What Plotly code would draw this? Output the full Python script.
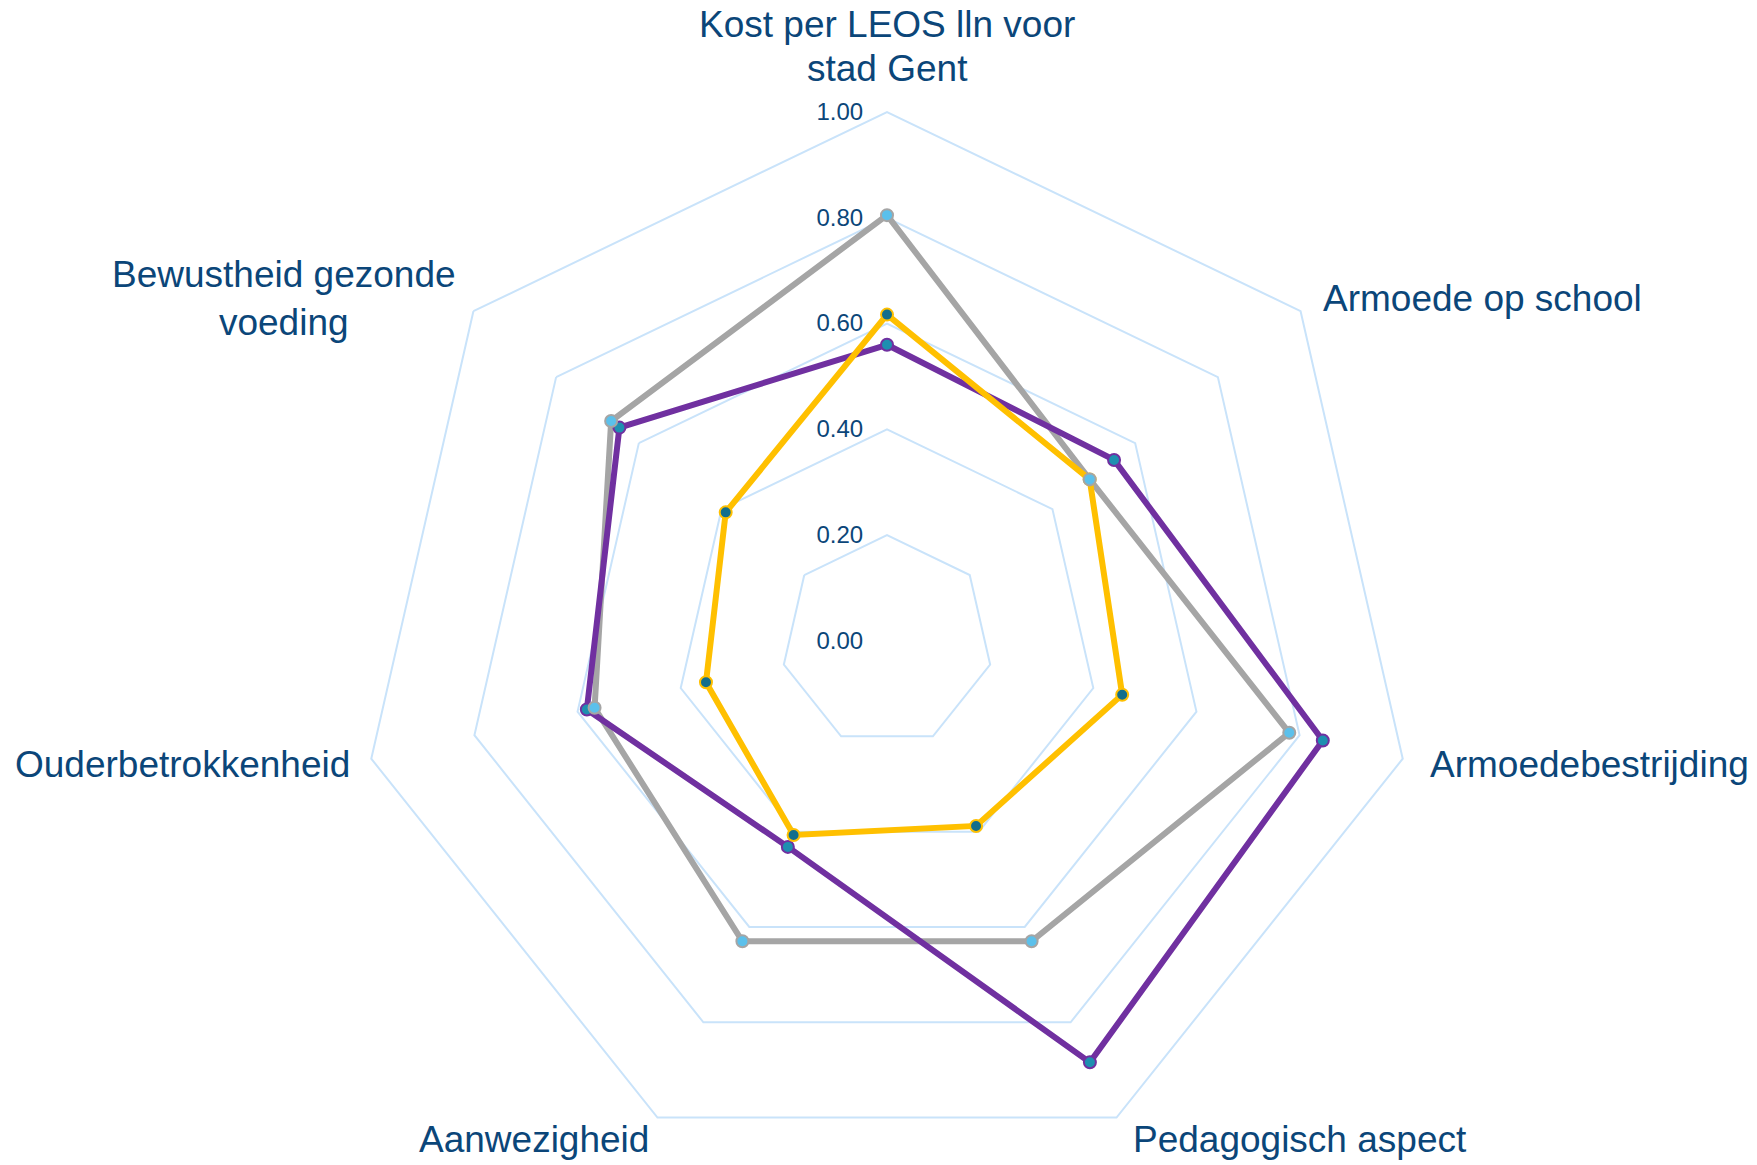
import math
import plotly.graph_objects as go

categories = [
    "Kost per LEOS lln voor<br>stad Gent",
    "Armoede op school",
    "Armoedebestrijding",
    "Pedagogisch aspect",
    "Aanwezigheid",
    "Ouderbetrokkenheid",
    "Bewustheid gezonde<br>voeding",
]
gray_vals = [0.805, 0.49, 0.78, 0.63, 0.63, 0.567, 0.667]
purple_vals = [0.56, 0.549, 0.845, 0.884, 0.432, 0.582, 0.647]
yellow_vals = [0.617, 0.49, 0.456, 0.388, 0.407, 0.351, 0.39]
radial_ticks = [0, 0.2, 0.4, 0.6, 0.8, 1.0]

TEXT = "#0B4679"
GRID = "#C9E3FA"

W, H = 1757, 1165
ML, MR, MT, MB = 10, 9, 104, 3

series = [
    ("gray", gray_vals, "#A5A5A5", "#5BC0EB"),
    ("purple", purple_vals, "#7030A0", "#1E8FB0"),
    ("yellow", yellow_vals, "#FFC000", "#136E8C"),
]

def closed(v):
    return list(v) + [v[0]]

fig = go.Figure()
for name, vals, lc, mc in series:
    fig.add_trace(go.Scatterpolar(
        r=closed(vals), theta=closed(categories), mode="lines",
        line=dict(color=lc, width=6), showlegend=False, name=name,
    ))
for name, vals, lc, mc in [series[1], series[2], series[0]]:
    fig.add_trace(go.Scatterpolar(
        r=vals, theta=categories, mode="markers",
        marker=dict(size=12, color=mc, line=dict(color=lc, width=2)),
        showlegend=False, name=name,
    ))

# category labels placed just outside the outer polygon vertices
pw, ph = W - ML - MR, H - MT - MB
R = min(pw, ph) / 2
cx, cy = ML + pw / 2, MT + ph / 2
LINE_GAP = 44  # px between wrapped label lines
label_style = [  # (dx, dy of label centre, xanchor) relative to the vertex, in px
    (0, -65, "center"),
    (21, -13, "left"),
    (26, 6, "left"),
    (15, 22, "left"),
    (-7, 22, "right"),
    (-20, 6, "right"),
    (-16, -13, "right"),
]
n = len(categories)
annotations = []
for i, (cat, (dx, dy, xa)) in enumerate(zip(categories, label_style)):
    ang = math.radians(90 - 360 * i / n)
    vx = cx + R * math.cos(ang)
    vy = cy - R * math.sin(ang)
    lines = cat.split("<br>")
    if i == 0:
        # each line as its own text so the line spacing matches
        k = len(lines)
        for j, ln in enumerate(lines):
            ly = vy + dy + (j - (k - 1) / 2) * LINE_GAP
            annotations.append(dict(
                text=ln, xref="paper", yref="paper",
                x=(vx + dx - ML) / pw, y=1 - (ly - MT) / ph,
                xanchor=xa, yanchor="middle", align="center", showarrow=False,
                font=dict(size=37, color=TEXT), borderpad=0,
            ))
    else:
        annotations.append(dict(
            text=cat, xref="paper", yref="paper",
            x=(vx + dx - ML) / pw, y=1 - (vy + dy - MT) / ph,
            xanchor=xa, yanchor="middle", align="center", showarrow=False,
            font=dict(size=37, color=TEXT), borderpad=0,
        ))

fig.update_layout(
    width=W, height=H,
    margin=dict(l=ML, r=MR, t=MT, b=MB),
    paper_bgcolor="white", plot_bgcolor="white",
    font=dict(family="Liberation Sans, Arial, sans-serif", color=TEXT),
    annotations=annotations,
    polar=dict(
        bgcolor="white",
        gridshape="linear",
        radialaxis=dict(
            range=[0, 1], tickvals=radial_ticks, tickformat=".2f",
            angle=90, tickangle=90, side="counterclockwise",
            showline=False, ticks="outside", ticklen=15,
            tickcolor="rgba(0,0,0,0)",
            gridcolor=GRID, gridwidth=2,
            tickfont=dict(size=24, color=TEXT),
        ),
        angularaxis=dict(
            rotation=90, direction="clockwise", showgrid=False,
            showline=True, linecolor=GRID, linewidth=2, ticks="",
            showticklabels=False,
        ),
    ),
)

fig.write_html("out.html")
